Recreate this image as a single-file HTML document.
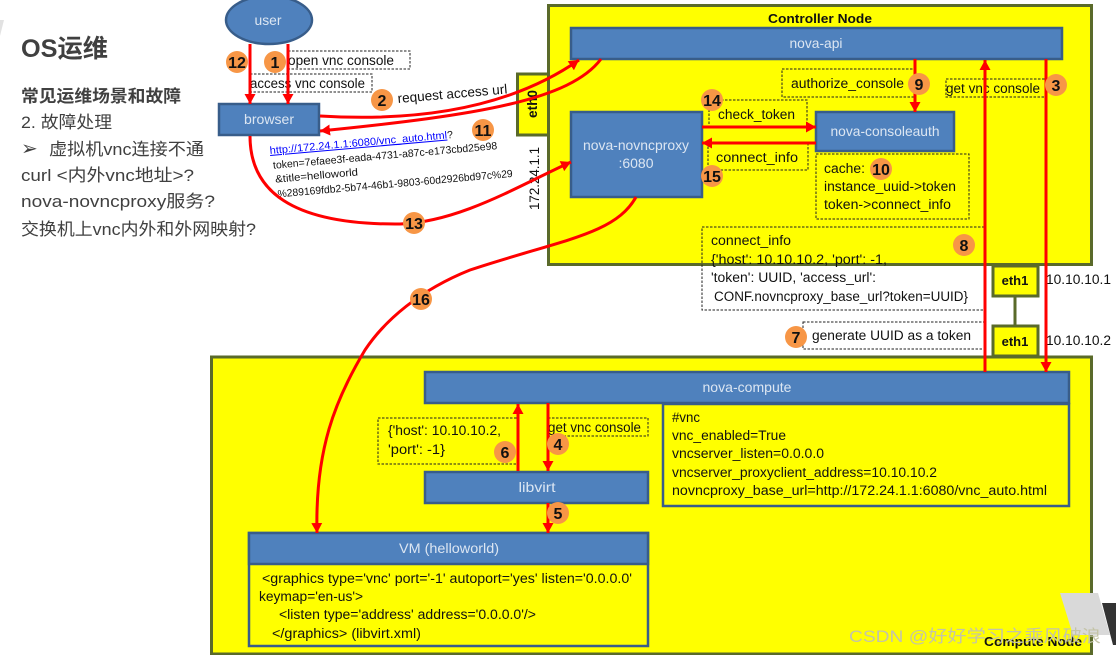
<!DOCTYPE html>
<html><head><meta charset="utf-8"><style>
html,body{margin:0;padding:0;background:#fff;width:1116px;height:655px;overflow:hidden}
svg{display:block}
text{font-family:"Liberation Sans","Noto Sans CJK SC",sans-serif;font-size:13.5px;fill:#111}
.w{fill:#dce6f2;text-anchor:middle;font-size:14px}
.n{font-weight:bold;font-size:16px;text-anchor:middle;fill:#111}
.b{fill:#4f81bd;stroke:#385d8a;stroke-width:2.5}
.d{fill:none;stroke:#222;stroke-width:1;stroke-dasharray:2.5 1.5}
.r{fill:none;stroke:#f00;stroke-width:3}
.g{fill:#ff0;stroke:#5a6a2a;stroke-width:3}
.c{fill:#f79646}
.t{font-size:17px;fill:#404040}
</style></head><body>
<svg width="1116" height="655" viewBox="0 0 1116 655" xmlns="http://www.w3.org/2000/svg">
<defs><marker id="a" markerUnits="userSpaceOnUse" markerWidth="11" markerHeight="11" refX="10" refY="5.5" orient="auto"><path d="M0 0L10 5.5L0 11z" fill="#f00"/></marker></defs>
<polygon points="0,20 4,20 0,36" fill="#e2e2e2"/>
<text x="21" y="57" style="font-size:25px;font-weight:bold;fill:#404040" textLength="87" lengthAdjust="spacingAndGlyphs">OS运维</text>
<text x="21" y="102" class="t" style="font-weight:bold" textLength="160" lengthAdjust="spacingAndGlyphs">常见运维场景和故障</text>
<text x="21" y="128" class="t" textLength="91" lengthAdjust="spacingAndGlyphs">2. 故障处理</text>
<text x="21" y="155" class="t" style="font-size:20px">➢</text>
<text x="49" y="155" class="t" textLength="155" lengthAdjust="spacingAndGlyphs">虚拟机vnc连接不通</text>
<text x="21" y="181" class="t" textLength="173" lengthAdjust="spacingAndGlyphs">curl &lt;内外vnc地址&gt;?</text>
<text x="21" y="207" class="t" textLength="194" lengthAdjust="spacingAndGlyphs">nova-novncproxy服务?</text>
<text x="21" y="235" class="t" textLength="235" lengthAdjust="spacingAndGlyphs">交换机上vnc内外和外网映射?</text>

<rect x="548.5" y="5.5" width="543" height="259" class="g"/>
<rect x="211.5" y="357" width="880" height="297" class="g"/>
<rect x="517.5" y="74" width="31" height="61" class="g"/>
<line x1="1015" y1="296" x2="1015" y2="327" stroke="#5a6a2a" stroke-width="3"/>
<rect x="993" y="266" width="45" height="30" class="g"/>
<rect x="993" y="326" width="45" height="30" class="g"/>
<text transform="translate(537,118) rotate(-90)" style="font-weight:bold;font-size:13.5px" textLength="28" lengthAdjust="spacingAndGlyphs">eth0</text>
<text x="1015" y="285" class="n" style="font-size:13px">eth1</text>
<text x="1015" y="346" class="n" style="font-size:13px">eth1</text>
<text x="1046" y="284" textLength="65" lengthAdjust="spacingAndGlyphs">10.10.10.1</text>
<text x="1046" y="345" textLength="65" lengthAdjust="spacingAndGlyphs">10.10.10.2</text>
<text transform="translate(539,210) rotate(-90)" textLength="63" lengthAdjust="spacingAndGlyphs">172.24.1.1</text>
<text x="768" y="23" style="font-weight:bold;font-size:12.5px" textLength="104" lengthAdjust="spacingAndGlyphs">Controller Node</text>

<ellipse cx="269" cy="20" rx="43" ry="24" class="b"/>
<text x="268" y="25" class="w" textLength="27" lengthAdjust="spacingAndGlyphs">user</text>
<rect x="219" y="104" width="100" height="31" class="b"/>
<text x="269" y="124" class="w" textLength="50" lengthAdjust="spacingAndGlyphs">browser</text>
<rect x="571" y="28" width="491" height="31" class="b"/>
<text x="816" y="48" class="w" textLength="53" lengthAdjust="spacingAndGlyphs">nova-api</text>
<rect x="571" y="112" width="131" height="85" class="b"/>
<text x="636" y="150" class="w" textLength="106" lengthAdjust="spacingAndGlyphs">nova-novncproxy</text>
<text x="636" y="168" class="w">:6080</text>
<rect x="816" y="112" width="138" height="39" class="b"/>
<text x="885" y="136" class="w" textLength="109" lengthAdjust="spacingAndGlyphs">nova-consoleauth</text>
<rect x="425" y="372" width="644" height="31" class="b"/>
<text x="747" y="392" class="w" textLength="89" lengthAdjust="spacingAndGlyphs">nova-compute</text>
<rect x="663" y="404" width="406" height="102" fill="#ff0" stroke="#385d8a" stroke-width="2.5"/>
<rect x="425" y="472" width="223" height="31" class="b"/>
<text x="537" y="492" class="w" textLength="37" lengthAdjust="spacingAndGlyphs">libvirt</text>
<rect x="249" y="533" width="399" height="113" fill="#ff0" stroke="#385d8a" stroke-width="2.5"/>
<rect x="249" y="533" width="399" height="31" class="b"/>
<text x="449" y="553" class="w" textLength="100" lengthAdjust="spacingAndGlyphs">VM (helloworld)</text>

<rect x="288" y="51" width="122" height="18" class="d"/>
<rect x="250" y="74" width="122" height="18" class="d"/>
<rect x="782" y="69" width="134" height="28" class="d"/>
<rect x="946" y="79" width="100" height="18" class="d"/>
<rect x="709" y="100" width="98" height="26" class="d"/>
<rect x="708" y="143" width="100" height="27" class="d"/>
<rect x="816" y="154" width="153" height="65" class="d"/>
<rect x="702" y="227" width="283" height="83" class="d"/>
<rect x="803" y="322" width="182" height="27" class="d"/>
<rect x="378" y="418" width="140" height="46" class="d"/>
<rect x="548" y="418" width="100" height="18" class="d"/>

<text x="288" y="65" textLength="106" lengthAdjust="spacingAndGlyphs">open vnc console</text>
<text x="250" y="88" textLength="115" lengthAdjust="spacingAndGlyphs">access vnc console</text>
<text transform="translate(398,103) rotate(-5)" textLength="110" lengthAdjust="spacingAndGlyphs">request access url</text>
<g transform="translate(270,154) rotate(-5)">
<text x="0" y="0" style="font-size:10.5px;fill:#00f;text-decoration:underline" textLength="178" lengthAdjust="spacingAndGlyphs">http://172.24.1.1:6080/vnc_auto.html</text>
<text x="178" y="0" style="font-size:10.5px">?</text>
<text x="2" y="15" style="font-size:10.5px" textLength="225" lengthAdjust="spacingAndGlyphs">token=7efaee3f-eada-4731-a87c-e173cbd25e98</text>
<text x="3" y="29" style="font-size:10.5px" textLength="83" lengthAdjust="spacingAndGlyphs">&amp;title=helloworld</text>
<text x="4" y="44" style="font-size:10.5px" textLength="236" lengthAdjust="spacingAndGlyphs">%289169fdb2-5b74-46b1-9803-60d2926bd97c%29</text>
</g>
<text x="791" y="88" textLength="113" lengthAdjust="spacingAndGlyphs">authorize_console</text>
<text x="946" y="93" textLength="94" lengthAdjust="spacingAndGlyphs">get vnc console</text>
<text x="718" y="119" textLength="77" lengthAdjust="spacingAndGlyphs">check_token</text>
<text x="716" y="162" textLength="82" lengthAdjust="spacingAndGlyphs">connect_info</text>
<text x="824" y="173" textLength="41" lengthAdjust="spacingAndGlyphs">cache:</text>
<text x="824" y="191" textLength="132" lengthAdjust="spacingAndGlyphs">instance_uuid-&gt;token</text>
<text x="824" y="209" textLength="127" lengthAdjust="spacingAndGlyphs">token-&gt;connect_info</text>
<text x="711" y="245" textLength="80" lengthAdjust="spacingAndGlyphs">connect_info</text>
<text x="711" y="264" textLength="176" lengthAdjust="spacingAndGlyphs">{'host': 10.10.10.2, 'port': -1,</text>
<text x="711" y="282" textLength="165" lengthAdjust="spacingAndGlyphs">'token': UUID, 'access_url':</text>
<text x="714" y="301" textLength="254" lengthAdjust="spacingAndGlyphs">CONF.novncproxy_base_url?token=UUID}</text>
<text x="812" y="340" textLength="159" lengthAdjust="spacingAndGlyphs">generate UUID as a  token</text>
<text x="388" y="435" textLength="113" lengthAdjust="spacingAndGlyphs">{'host': 10.10.10.2,</text>
<text x="388" y="454" textLength="57" lengthAdjust="spacingAndGlyphs">'port': -1}</text>
<text x="548" y="432" textLength="93" lengthAdjust="spacingAndGlyphs">get vnc console</text>
<text x="672" y="422" textLength="28" lengthAdjust="spacingAndGlyphs">#vnc</text>
<text x="672" y="440" textLength="114" lengthAdjust="spacingAndGlyphs">vnc_enabled=True</text>
<text x="672" y="458" textLength="152" lengthAdjust="spacingAndGlyphs">vncserver_listen=0.0.0.0</text>
<text x="672" y="477" textLength="265" lengthAdjust="spacingAndGlyphs">vncserver_proxyclient_address=10.10.10.2</text>
<text x="672" y="495" textLength="375" lengthAdjust="spacingAndGlyphs">novncproxy_base_url=http://172.24.1.1:6080/vnc_auto.html</text>
<text x="262" y="583" textLength="370" lengthAdjust="spacingAndGlyphs">&lt;graphics type='vnc' port='-1' autoport='yes'  listen='0.0.0.0'</text>
<text x="259" y="601" textLength="104" lengthAdjust="spacingAndGlyphs">keymap='en-us'&gt;</text>
<text x="279" y="619" textLength="257" lengthAdjust="spacingAndGlyphs">&lt;listen type='address' address='0.0.0.0'/&gt;</text>
<text x="272" y="638" textLength="149" lengthAdjust="spacingAndGlyphs">&lt;/graphics&gt; (libvirt.xml)</text>

<line class="r" x1="288" y1="44" x2="288" y2="104" marker-end="url(#a)"/>
<line class="r" x1="250" y1="44" x2="250" y2="104" marker-end="url(#a)"/>
<path class="r" d="M320 116C420 122 510 108 579 60" marker-end="url(#a)"/>
<path class="r" d="M601 59C570 100 480 115 320 131" marker-end="url(#a)"/>
<path class="r" d="M250 136C250 190 290 225 400 224C460 222 520 185 571 162" marker-end="url(#a)"/>
<path class="r" d="M636 197C615 235 560 240 470 270C420 290 385 320 365 350C335 400 315 450 317 533" marker-end="url(#a)"/>
<line class="r" x1="702" y1="127" x2="816" y2="127" marker-end="url(#a)"/>
<line class="r" x1="816" y1="143" x2="702" y2="143" marker-end="url(#a)"/>
<line class="r" x1="915" y1="59" x2="915" y2="112" marker-end="url(#a)"/>
<line class="r" x1="1046" y1="59" x2="1046" y2="372" marker-end="url(#a)"/>
<line class="r" x1="985" y1="372" x2="985" y2="60" marker-end="url(#a)"/>
<line class="r" x1="548" y1="403" x2="548" y2="471" marker-end="url(#a)"/>
<line class="r" x1="518" y1="471" x2="518" y2="404" marker-end="url(#a)"/>
<line class="r" x1="548" y1="503" x2="548" y2="533" marker-end="url(#a)"/>

<g>
<circle class="c" cx="275" cy="62" r="11"/><circle class="c" cx="237" cy="62" r="11"/>
<circle class="c" cx="382" cy="100" r="11"/><circle class="c" cx="483" cy="130" r="11"/>
<circle class="c" cx="414" cy="223" r="11"/><circle class="c" cx="712" cy="100" r="11"/>
<circle class="c" cx="712" cy="176" r="11"/><circle class="c" cx="919" cy="84" r="11"/>
<circle class="c" cx="1056" cy="85" r="11"/><circle class="c" cx="881" cy="169" r="11"/>
<circle class="c" cx="964" cy="245" r="11"/><circle class="c" cx="796" cy="337" r="11"/>
<circle class="c" cx="421" cy="299" r="11"/><circle class="c" cx="505" cy="452" r="11"/>
<circle class="c" cx="558" cy="444" r="11"/><circle class="c" cx="558" cy="513" r="11"/>
</g>
<g>
<text class="n" x="275" y="68">1</text><text class="n" x="237" y="68">12</text>
<text class="n" x="382" y="106">2</text><text class="n" x="483" y="136">11</text>
<text class="n" x="414" y="229">13</text><text class="n" x="712" y="106">14</text>
<text class="n" x="712" y="182">15</text><text class="n" x="919" y="90">9</text>
<text class="n" x="1056" y="91">3</text><text class="n" x="881" y="175">10</text>
<text class="n" x="964" y="251">8</text><text class="n" x="796" y="343">7</text>
<text class="n" x="421" y="305">16</text><text class="n" x="505" y="458">6</text>
<text class="n" x="558" y="450">4</text><text class="n" x="558" y="519">5</text>
</g>

<polygon points="1060,593 1098,593 1110,635 1073,635" fill="#d9d9d9"/>
<polygon points="1102,603 1116,603 1116,645 1113,645" fill="#333"/>
<text x="984" y="646" style="font-weight:bold;font-size:12.5px" textLength="98" lengthAdjust="spacingAndGlyphs">Compute Node</text>
<text x="849" y="642" style="font-size:17px;fill:#c4c4a8" textLength="252" lengthAdjust="spacingAndGlyphs">CSDN @好好学习之乘风破浪</text>
</svg>
</body></html>
